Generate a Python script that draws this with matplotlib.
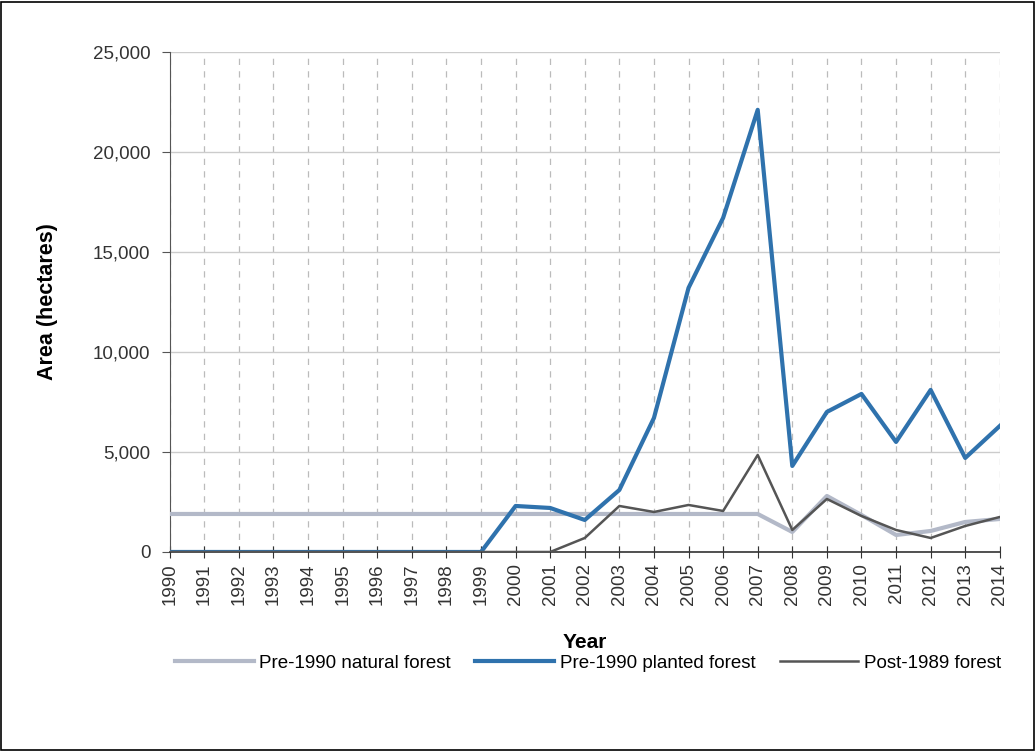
import numpy as np
import matplotlib
matplotlib.use("Agg")
import matplotlib.pyplot as plt
from matplotlib.ticker import FuncFormatter

plt.rcParams["font.family"] = ["Liberation Sans", "DejaVu Sans"]

YEARS = list(range(1990, 2015))

# Pre-1990 natural forest
NATURAL = [1900] * 18 + [1000, 2800, 1850, 850, 1050, 1500, 1650]
# Pre-1990 planted forest
PLANTED = [0] * 10 + [2300, 2200, 1600, 3100, 6700, 13200, 16700, 22100,
                      4300, 7000, 7900, 5500, 8100, 4700, 6300]
# Post-1989 forest
POST = [0] * 12 + [700, 2300, 2000, 2350, 2050, 4850,
                   1100, 2650, 1800, 1100, 700, 1300, 1750]

fig = plt.figure(figsize=(10.35, 7.51), dpi=100)
ax = fig.add_axes([0.164, 0.265, 0.802, 0.666])

ax.plot(YEARS, NATURAL, color="#b3b9c8", lw=3.0, label="Pre-1990 natural forest", zorder=3)
ax.plot(YEARS, PLANTED, color="#2f72ad", lw=3.0, label="Pre-1990 planted forest", zorder=4)
ax.plot(YEARS, POST, color="#555555", lw=1.8, label="Post-1989 forest", zorder=5)

ax.set_xlim(1990, 2014)
ax.set_ylim(0, 25000)
ax.set_xticks(YEARS)
ax.set_xticklabels([str(y) for y in YEARS], rotation=90, fontsize=13.5, color="#333333")
ax.set_yticks(range(0, 25001, 5000))
ax.yaxis.set_major_formatter(FuncFormatter(lambda v, p: f"{int(v):,}"))
ax.tick_params(axis="y", labelsize=13.5, labelcolor="#333333", length=6, direction="out",
               color="#555555", pad=8)
ax.tick_params(axis="x", length=8, direction="inout", color="#333333", pad=4)

ax.xaxis.grid(True, linestyle=(0, (5, 5)), color="#bbbbbb", lw=0.9)
ax.yaxis.grid(True, linestyle="-", color="#cccccc", lw=1.0)
ax.set_axisbelow(True)

for s in ["top", "right"]:
    ax.spines[s].set_visible(False)
ax.spines["left"].set_color("#555555")
ax.spines["bottom"].set_color("#333333")
ax.spines["bottom"].set_linewidth(1.2)

ax.set_xlabel("Year", fontsize=15, fontweight="bold", labelpad=20)
ax.set_ylabel("Area (hectares)", fontsize=15.5, fontweight="bold", labelpad=25)

fig.legend(loc="center", bbox_to_anchor=(0.568, 0.117), ncol=3, frameon=False,
           fontsize=13.5, handlelength=4.2, columnspacing=1.3, handletextpad=0.3)

# outer frame
fig.patches.append(plt.Rectangle((0.001, 0.001), 0.998, 0.997, transform=fig.transFigure,
                                 fill=False, edgecolor="black", lw=1.2))

fig.savefig("out.png", dpi=100)
